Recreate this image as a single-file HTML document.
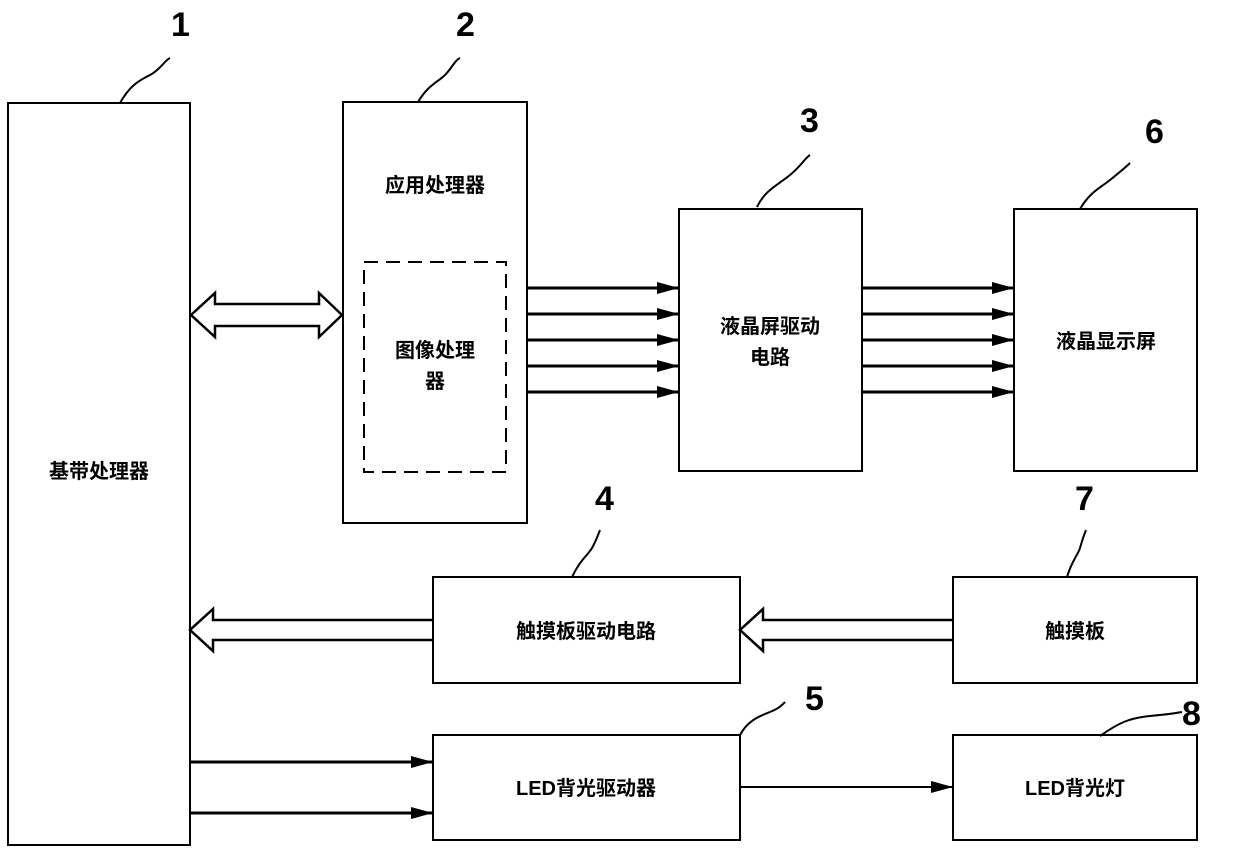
<!DOCTYPE html>
<html><head><meta charset="utf-8"><style>
body{margin:0;background:#fff;}
svg text{font-family:"Liberation Sans","Noto Sans CJK SC",sans-serif;fill:#000;}
</style></head><body>
<svg width="1239" height="847" viewBox="0 0 1239 847" xmlns="http://www.w3.org/2000/svg">
<defs>
<marker id="b" markerWidth="22" markerHeight="12" refX="22" refY="6" orient="auto" markerUnits="userSpaceOnUse" viewBox="0 0 22 12"><path d="M0,0L22,6L0,12z" fill="#000"/></marker></defs>
<g fill="none" stroke="#000" stroke-width="2">
<rect x="8" y="103" width="182" height="742"/>
<rect x="343" y="102" width="184" height="421"/>
<rect x="364" y="262" width="142" height="210" stroke-dasharray="14,8"/>
<rect x="679" y="209" width="183" height="262"/>
<rect x="1014" y="209" width="183" height="262"/>
<rect x="433" y="577" width="307" height="106"/>
<rect x="953" y="577" width="244" height="106"/>
<rect x="433" y="735" width="307" height="105"/>
<rect x="953" y="735" width="244" height="105"/>
<g stroke-width="3">
<line x1="527" y1="288" x2="679" y2="288" marker-end="url(#b)"/>
<line x1="527" y1="314" x2="679" y2="314" marker-end="url(#b)"/>
<line x1="527" y1="340" x2="679" y2="340" marker-end="url(#b)"/>
<line x1="527" y1="366" x2="679" y2="366" marker-end="url(#b)"/>
<line x1="527" y1="392" x2="679" y2="392" marker-end="url(#b)"/>
<line x1="862" y1="288" x2="1014" y2="288" marker-end="url(#b)"/>
<line x1="862" y1="314" x2="1014" y2="314" marker-end="url(#b)"/>
<line x1="862" y1="340" x2="1014" y2="340" marker-end="url(#b)"/>
<line x1="862" y1="366" x2="1014" y2="366" marker-end="url(#b)"/>
<line x1="862" y1="392" x2="1014" y2="392" marker-end="url(#b)"/>
<line x1="190" y1="762" x2="433" y2="762" marker-end="url(#b)"/>
<line x1="190" y1="813" x2="433" y2="813" marker-end="url(#b)"/>
</g>
<line x1="740" y1="787" x2="953" y2="787" marker-end="url(#b)"/>
<g stroke-width="2.5">
<path d="M191,315L215,293V304H319V293L342,315L319,337V326H215V337Z"/>
<path d="M433,620H213V609L190,630L213,651V640H433"/>
<path d="M953,620H763V609L740,630L763,651V640H953"/>
</g>
<path d="M120,103C130,85 140,80 150,75S165,60 170,58"/>
<path d="M418,102C428,85 438,82 445,75S455,60 460,58"/>
<path d="M757,207C765,190 778,185 790,175S805,158 810,155"/>
<path d="M1080,209C1090,192 1100,188 1110,180S1125,168 1130,163"/>
<path d="M572,577C580,560 588,555 592,548S598,535 600,530"/>
<path d="M1067,577C1072,560 1078,555 1080,548S1084,535 1086,530"/>
<path d="M740,735C748,720 760,716 770,712S782,705 785,702"/>
<path d="M1100,736C1120,722 1130,718 1150,716S1170,714 1182,712"/>
</g>
<g font-size="34" font-weight="bold">
<text x="171" y="36">1</text><text x="456" y="36">2</text>
<text x="800" y="132">3</text><text x="1145" y="143">6</text>
<text x="595" y="510">4</text><text x="1075" y="510">7</text>
<text x="805" y="710">5</text><text x="1182" y="725">8</text>
</g>
<g font-size="20" text-anchor="middle" font-weight="bold">
<text x="99" y="478">基带处理器</text>
<text x="435" y="192">应用处理器</text>
<text x="435" y="357">图像处理</text>
<text x="435" y="388">器</text>
<text x="770" y="333">液晶屏驱动</text>
<text x="770" y="364">电路</text>
<text x="1106" y="348">液晶显示屏</text>
<text x="586" y="638">触摸板驱动电路</text>
<text x="1075" y="638">触摸板</text>
<text x="586" y="795">LED背光驱动器</text>
<text x="1075" y="795">LED背光灯</text>
</g>
</svg>
</body></html>
